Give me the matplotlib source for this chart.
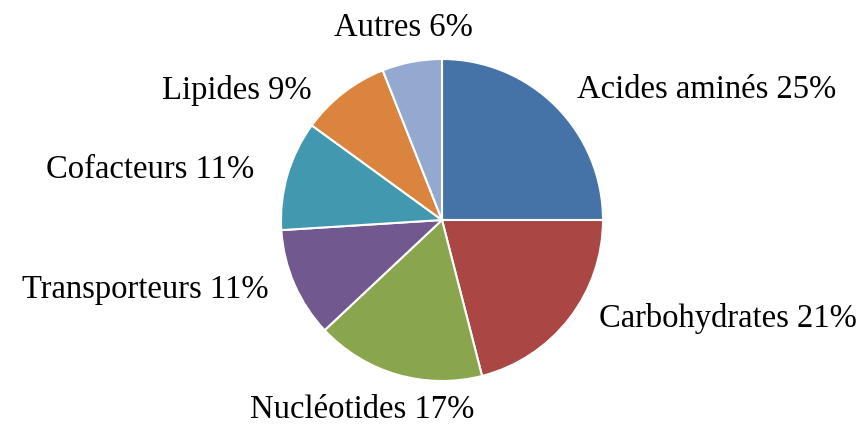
import matplotlib
matplotlib.use('Agg')
import matplotlib.pyplot as plt

# data
categories = ['Acides aminés', 'Carbohydrates', 'Nucléotides', 'Transporteurs',
              'Cofacteurs', 'Lipides', 'Autres']
values = [25, 21, 17, 11, 11, 9, 6]
colors = ['#4572A7', '#AA4643', '#89A54E', '#71588F', '#4198AF', '#DB843D', '#93A9CF']

plt.rcParams['font.family'] = ['Liberation Serif', 'DejaVu Serif']

fig = plt.figure(figsize=(8.64, 4.26), dpi=100)
# centre du camembert ~ (442, 220) px, rayon ~161 px
r = 161
cx, cy = 442, 220
ax = fig.add_axes([(cx - r) / 864, (426 - cy - r) / 426, 2 * r / 864, 2 * r / 426])

wedges, _ = ax.pie(values, colors=colors, startangle=90, counterclock=False,
                   wedgeprops=dict(edgecolor='white', linewidth=1.5))
ax.set_xlim(-1, 1)
ax.set_ylim(-1, 1)
ax.set_aspect('equal')
ax.axis('off')

# positions des etiquettes (en pixels)
label_pos = [(707, 90), (728, 318), (362, 410), (145, 290), (150, 170), (237, 90), (403, 28)]
for cat, v, (px, py) in zip(categories, values, label_pos):
    ax.text((px - cx) / r, (cy - py) / r, '%s %d%%' % (cat, v), fontsize=23.5,
            ha='center', va='center', clip_on=False)

fig.savefig('out.png', dpi=100)
